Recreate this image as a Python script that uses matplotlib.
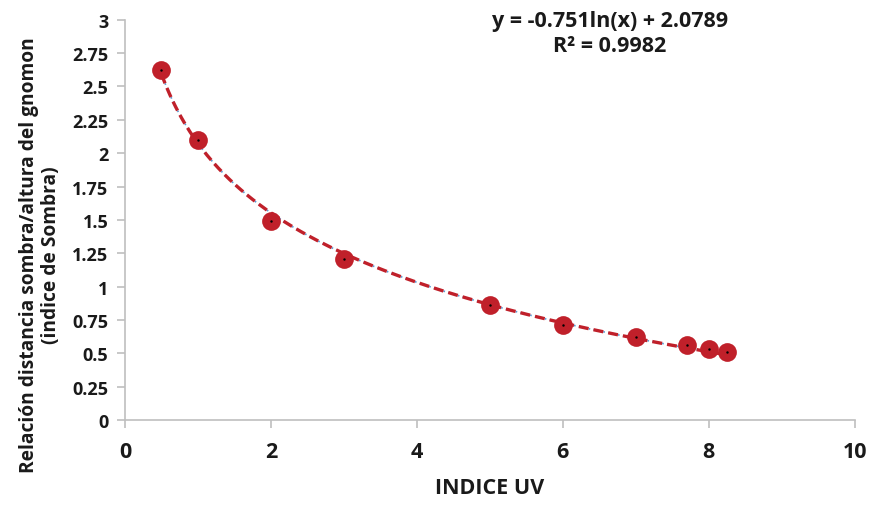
import numpy as np
import matplotlib
matplotlib.use("Agg")
import matplotlib.pyplot as plt

plt.rcParams['font.family'] = ['Open Sans', 'DejaVu Sans']
plt.rcParams['font.weight'] = 'bold'

indice_uv = [0.5, 1, 2, 3, 5, 6, 7, 7.7, 8, 8.25]
indice_sombra = [2.62, 2.10, 1.49, 1.21, 0.86, 0.71, 0.62, 0.56, 0.53, 0.51]
x_ticks = [0, 2, 4, 6, 8, 10]
y_ticks = [0, 0.25, 0.5, 0.75, 1, 1.25, 1.5, 1.75, 2, 2.25, 2.5, 2.75, 3]
y_tick_labels = ['0', '0.25', '0.5', '0.75', '1', '1.25', '1.5', '1.75', '2', '2.25', '2.5', '2.75', '3']
eq_text = "y = -0.751ln(x) + 2.0789\nR² = 0.9982"

fig = plt.figure(figsize=(8.74, 5.06), dpi=100)
ax = fig.add_axes([0.143, 0.168, 0.835, 0.791])

red = '#C0202A'
x = np.array(indice_uv)
y = np.array(indice_sombra)
slope, intercept = np.polyfit(np.log(x), y, 1)
xs = np.linspace(x.min(), x.max(), 200)
ys = slope * np.log(xs) + intercept

ax.plot(xs, ys, color='#5B9BD5', lw=1.2, ls=(0, (1, 2)), zorder=2)
ax.plot(xs, ys, color=red, lw=2.4, ls=(0, (3, 1.5)), zorder=3)
ax.plot(x, y, 'o', color=red, markersize=13.5, markeredgewidth=0, zorder=4)
ax.plot(x, y, '.', color='black', markersize=1.5, zorder=5)

ax.set_xlim(0, 10)
ax.set_ylim(0, 3)
ax.set_xticks(x_ticks)
ax.set_yticks(y_ticks)
ax.set_yticklabels(y_tick_labels)
for s in ['top', 'right']:
    ax.spines[s].set_visible(False)
for s in ['left', 'bottom']:
    ax.spines[s].set_color('#BFBFBF')
    ax.spines[s].set_linewidth(1.2)
ax.tick_params(axis='both', colors='#BFBFBF', length=6, width=1.2, labelcolor='#1a1a1a')
ax.tick_params(axis='x', pad=9, labelsize=15.5)
ax.tick_params(axis='y', pad=6, labelsize=13)
for lab in ax.get_xticklabels() + ax.get_yticklabels():
    lab.set_fontweight('bold')

ax.set_xlabel('INDICE UV', fontsize=15.5, fontweight='bold', color='#1a1a1a', labelpad=11)
ax.set_ylabel('Relación distancia sombra/altura del gnomon\n(indice de Sombra)', fontsize=13.8,
              fontweight='bold', color='#1a1a1a', linespacing=1.15)
ax.yaxis.set_label_coords(-0.088, 0.415)

fig.text(610 / 874, 1 - 34 / 506, eq_text, ha='center', va='center', fontsize=15.5,
         fontweight='bold', color='#1a1a1a', linespacing=1.2)

fig.savefig('out.png', dpi=100, facecolor='white')
